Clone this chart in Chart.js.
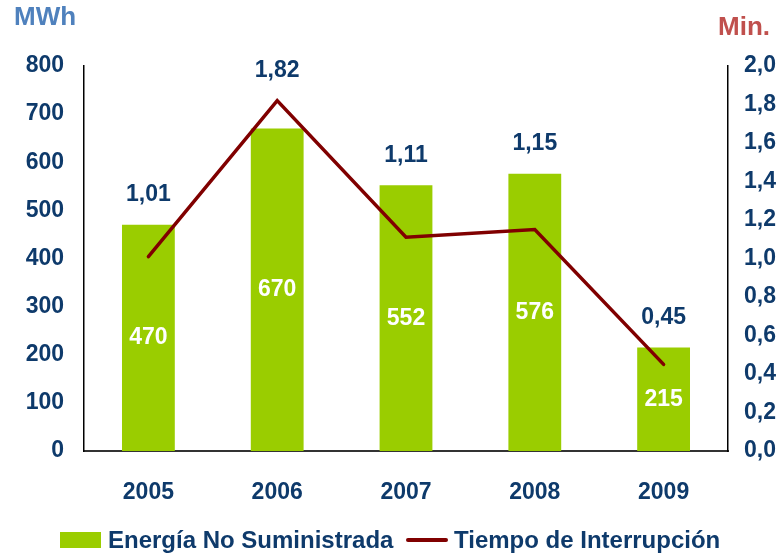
<!DOCTYPE html>
<html>
<head>
<meta charset="utf-8">
<script src="https://cdn.jsdelivr.net/npm/chart.js@4.4.0/dist/chart.umd.min.js"></script>
<style>
  html, body { margin: 0; padding: 0; background: #fff; }
  #wrap { width: 783px; height: 556px; position: relative; }
</style>
</head>
<body>
<div id="wrap"><canvas id="myChart" width="783" height="556"></canvas></div>
<script>
const years = ["2005", "2006", "2007", "2008", "2009"];
const energia = [470, 670, 552, 576, 215];        // MWh
const tiempo = [1.01, 1.82, 1.11, 1.15, 0.45];    // Min.
const leftTicks = [0, 100, 200, 300, 400, 500, 600, 700, 800];
const rightTicks = [0, 0.2, 0.4, 0.6, 0.8, 1.0, 1.2, 1.4, 1.6, 1.8, 2.0];

const navy = "#0e3a6b";
const green = "#9acd00";
const maroon = "#800000";
const font = "Liberation Sans, Arial, sans-serif";

const comma = (v, d) => v.toFixed(d).replace(".", ",");

// value labels + axis titles + legend
const extras = {
  id: "extras",
  afterDatasetsDraw(chart) {
    const ctx = chart.ctx;
    const pts = chart.getDatasetMeta(0).data;   // line
    const bars = chart.getDatasetMeta(1).data;  // bars
    ctx.save();
    ctx.font = "bold 23px " + font;
    ctx.textAlign = "center";
    ctx.textBaseline = "middle";
    bars.forEach((b, i) => {
      ctx.fillStyle = "#fff";
      const mid = (b.y + b.base) / 2;
      ctx.fillText(String(energia[i]), b.x, mid);
      const top = Math.min(b.y, pts[i].y);
      ctx.fillStyle = navy;
      ctx.fillText(comma(tiempo[i], 2), b.x, top - 30);
    });

    // axis titles
    ctx.font = "bold 26px " + font;
    ctx.textAlign = "left";
    ctx.fillStyle = "#4f81bd";
    ctx.fillText("MWh", 14, 18);
    ctx.fillStyle = "#c0504d";
    ctx.fillText("Min.", 718, 28);

    // legend
    ctx.fillStyle = green;
    ctx.fillRect(60, 532, 41, 16);
    ctx.strokeStyle = maroon;
    ctx.lineWidth = 4;
    ctx.lineCap = "round";
    ctx.beginPath();
    ctx.moveTo(408, 540);
    ctx.lineTo(446, 540);
    ctx.stroke();
    ctx.fillStyle = navy;
    ctx.font = "bold 24px " + font;
    ctx.fillText("Energía No Suministrada", 108, 541);
    ctx.fillText("Tiempo de Interrupción", 454, 541);
    ctx.restore();
  }
};

new Chart(document.getElementById("myChart").getContext("2d"), {
  data: {
    labels: years,
    datasets: [
      {
        type: "line",
        label: "Tiempo de Interrupción",
        data: tiempo,
        yAxisID: "y1",
        borderColor: maroon,
        borderWidth: 3.5,
        borderCapStyle: "round",
        pointRadius: 0,
        tension: 0,
        order: 0
      },
      {
        type: "bar",
        label: "Energía No Suministrada",
        data: energia,
        yAxisID: "y",
        backgroundColor: green,
        barPercentage: 0.41,
        categoryPercentage: 1,
        order: 1
      }
    ]
  },
  options: {
    responsive: false,
    animation: false,
    layout: { padding: { top: 66, bottom: 45, left: 0, right: 0 } },
    plugins: { legend: { display: false }, tooltip: { enabled: false } },
    scales: {
      x: {
        grid: { display: false, drawTicks: false },
        border: { display: true, color: "#333", width: 2 },
        ticks: { color: navy, font: { family: font, size: 23, weight: "bold" }, padding: 28 },
        afterFit(s) { s.height = 60; }
      },
      y: {
        position: "left",
        min: 0, max: 800,
        afterBuildTicks(s) { s.ticks = leftTicks.map(v => ({ value: v })); },
        grid: { display: false, drawTicks: false },
        border: { display: true, color: "#000", width: 1.5 },
        ticks: { color: navy, font: { family: font, size: 23, weight: "bold" }, padding: 20 },
        afterFit(s) { s.width = 84; }
      },
      y1: {
        position: "right",
        min: 0, max: 2,
        afterBuildTicks(s) { s.ticks = rightTicks.map(v => ({ value: v })); },
        grid: { display: false, drawTicks: false },
        border: { display: true, color: "#000", width: 1.5 },
        ticks: {
          color: navy, font: { family: font, size: 23, weight: "bold" }, padding: 16,
          callback: v => comma(v, 1)
        },
        afterFit(s) { s.width = 55; }
      }
    }
  },
  plugins: [extras]
});
</script>
</body>
</html>
